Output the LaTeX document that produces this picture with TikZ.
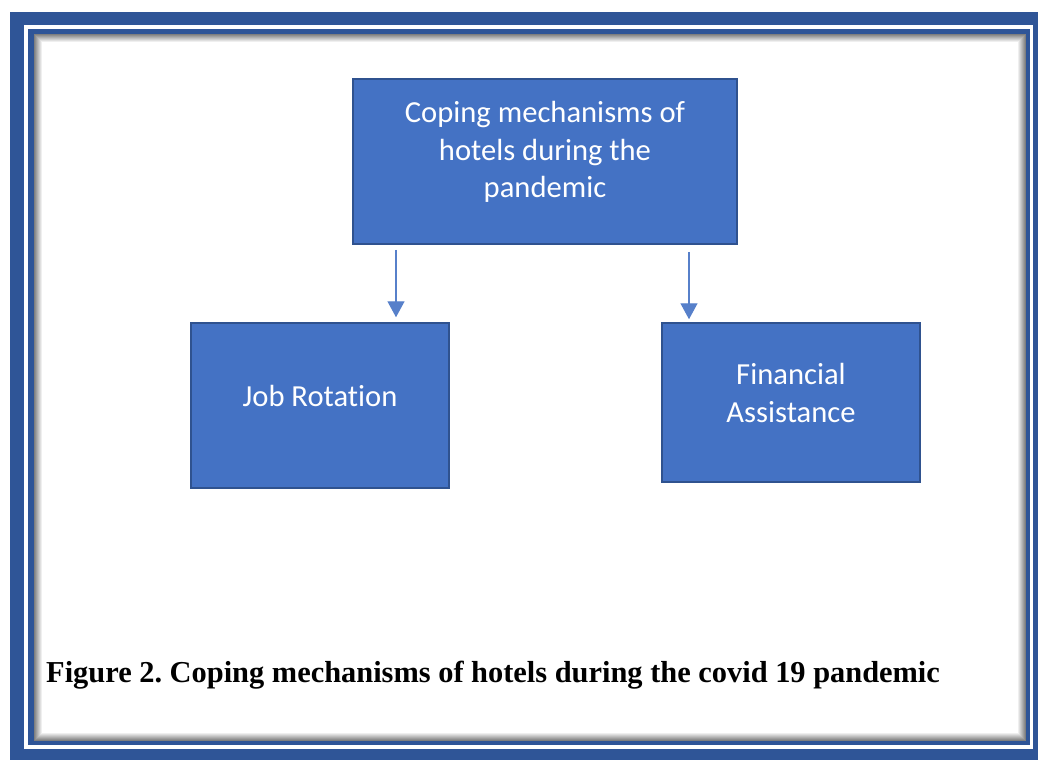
\documentclass[tikz,border=0pt]{standalone}
\usepackage{fontspec}
\setmainfont{Liberation Serif}
\newfontfamily\boxfont[Ligatures=NoCommon]{Carlito}
\usetikzlibrary{arrows.meta}

\definecolor{frameblue}{HTML}{2F5597}
\definecolor{boxblue}{HTML}{4472C4}
\definecolor{edgeblue}{HTML}{2F528F}

\tikzset{
	box/.style={shape=rectangle, draw=edgeblue, line width=1.5pt, fill=boxblue},
	boxtext/.style={text=white, font=\boxfont\fontsize{30.6}{37.5}\selectfont, align=center, inner sep=0pt},
	arr/.style={-{Triangle[length=16pt,width=17pt]}, line width=1.4pt, boxblue!90}
}

\begin{document}
\frenchspacing
\begin{tikzpicture}[x=1pt,y=-1pt]
	\useasboundingbox (0,0) rectangle (1038,760);
	\fill[white] (0,0) rectangle (1038,760);
	
	% double frame
	\fill[frameblue] (10,12) rectangle (1038,760);
	\fill[white] (24,25) rectangle (1033,749);
	\fill[frameblue] (28,29) rectangle (1030,745);
	\fill[white] (34,34) rectangle (1026,741);
	\foreach \i in {0,...,7}{
		\pgfmathsetmacro{\op}{0.5*(1-\i/8)}
		\draw[black, line width=1pt, opacity=\op] (34.5+\i,34.5+\i) rectangle (1025.5-\i,740.5-\i);
	}
	
	
	\node[box, minimum width=384pt, minimum height=165pt] (top) at (545, 161.5) {};
	\node[box, minimum width=258pt, minimum height=165pt] (job) at (320, 405.5) {};
	\node[box, minimum width=258pt, minimum height=159pt] (fin) at (791, 402.5) {};
	
	\node[boxtext] (toptext) at (545, 152) {Coping mechanisms of\\hotels during the\\pandemic};
	\node[boxtext] (jobtext) at (320, 396) {Job Rotation};
	\node[boxtext] (fintext) at (791, 393) {Financial\\Assistance};
	
	
	\draw[arr, shorten <=5pt, shorten >=5pt] ([xshift=-149pt]top.south) -- ([xshift=76pt]job.north);
	\draw[arr, shorten <=7pt, shorten >=3pt] ([xshift=144pt]top.south) -- ([xshift=-102pt]fin.north);
	
	
	\node[anchor=west, inner sep=0pt, font=\bfseries\fontsize{30.4}{36}\selectfont] (caption) at (46, 675) {Figure 2. Coping mechanisms of hotels during the covid 19 pandemic};
	
\end{tikzpicture}
\end{document}
